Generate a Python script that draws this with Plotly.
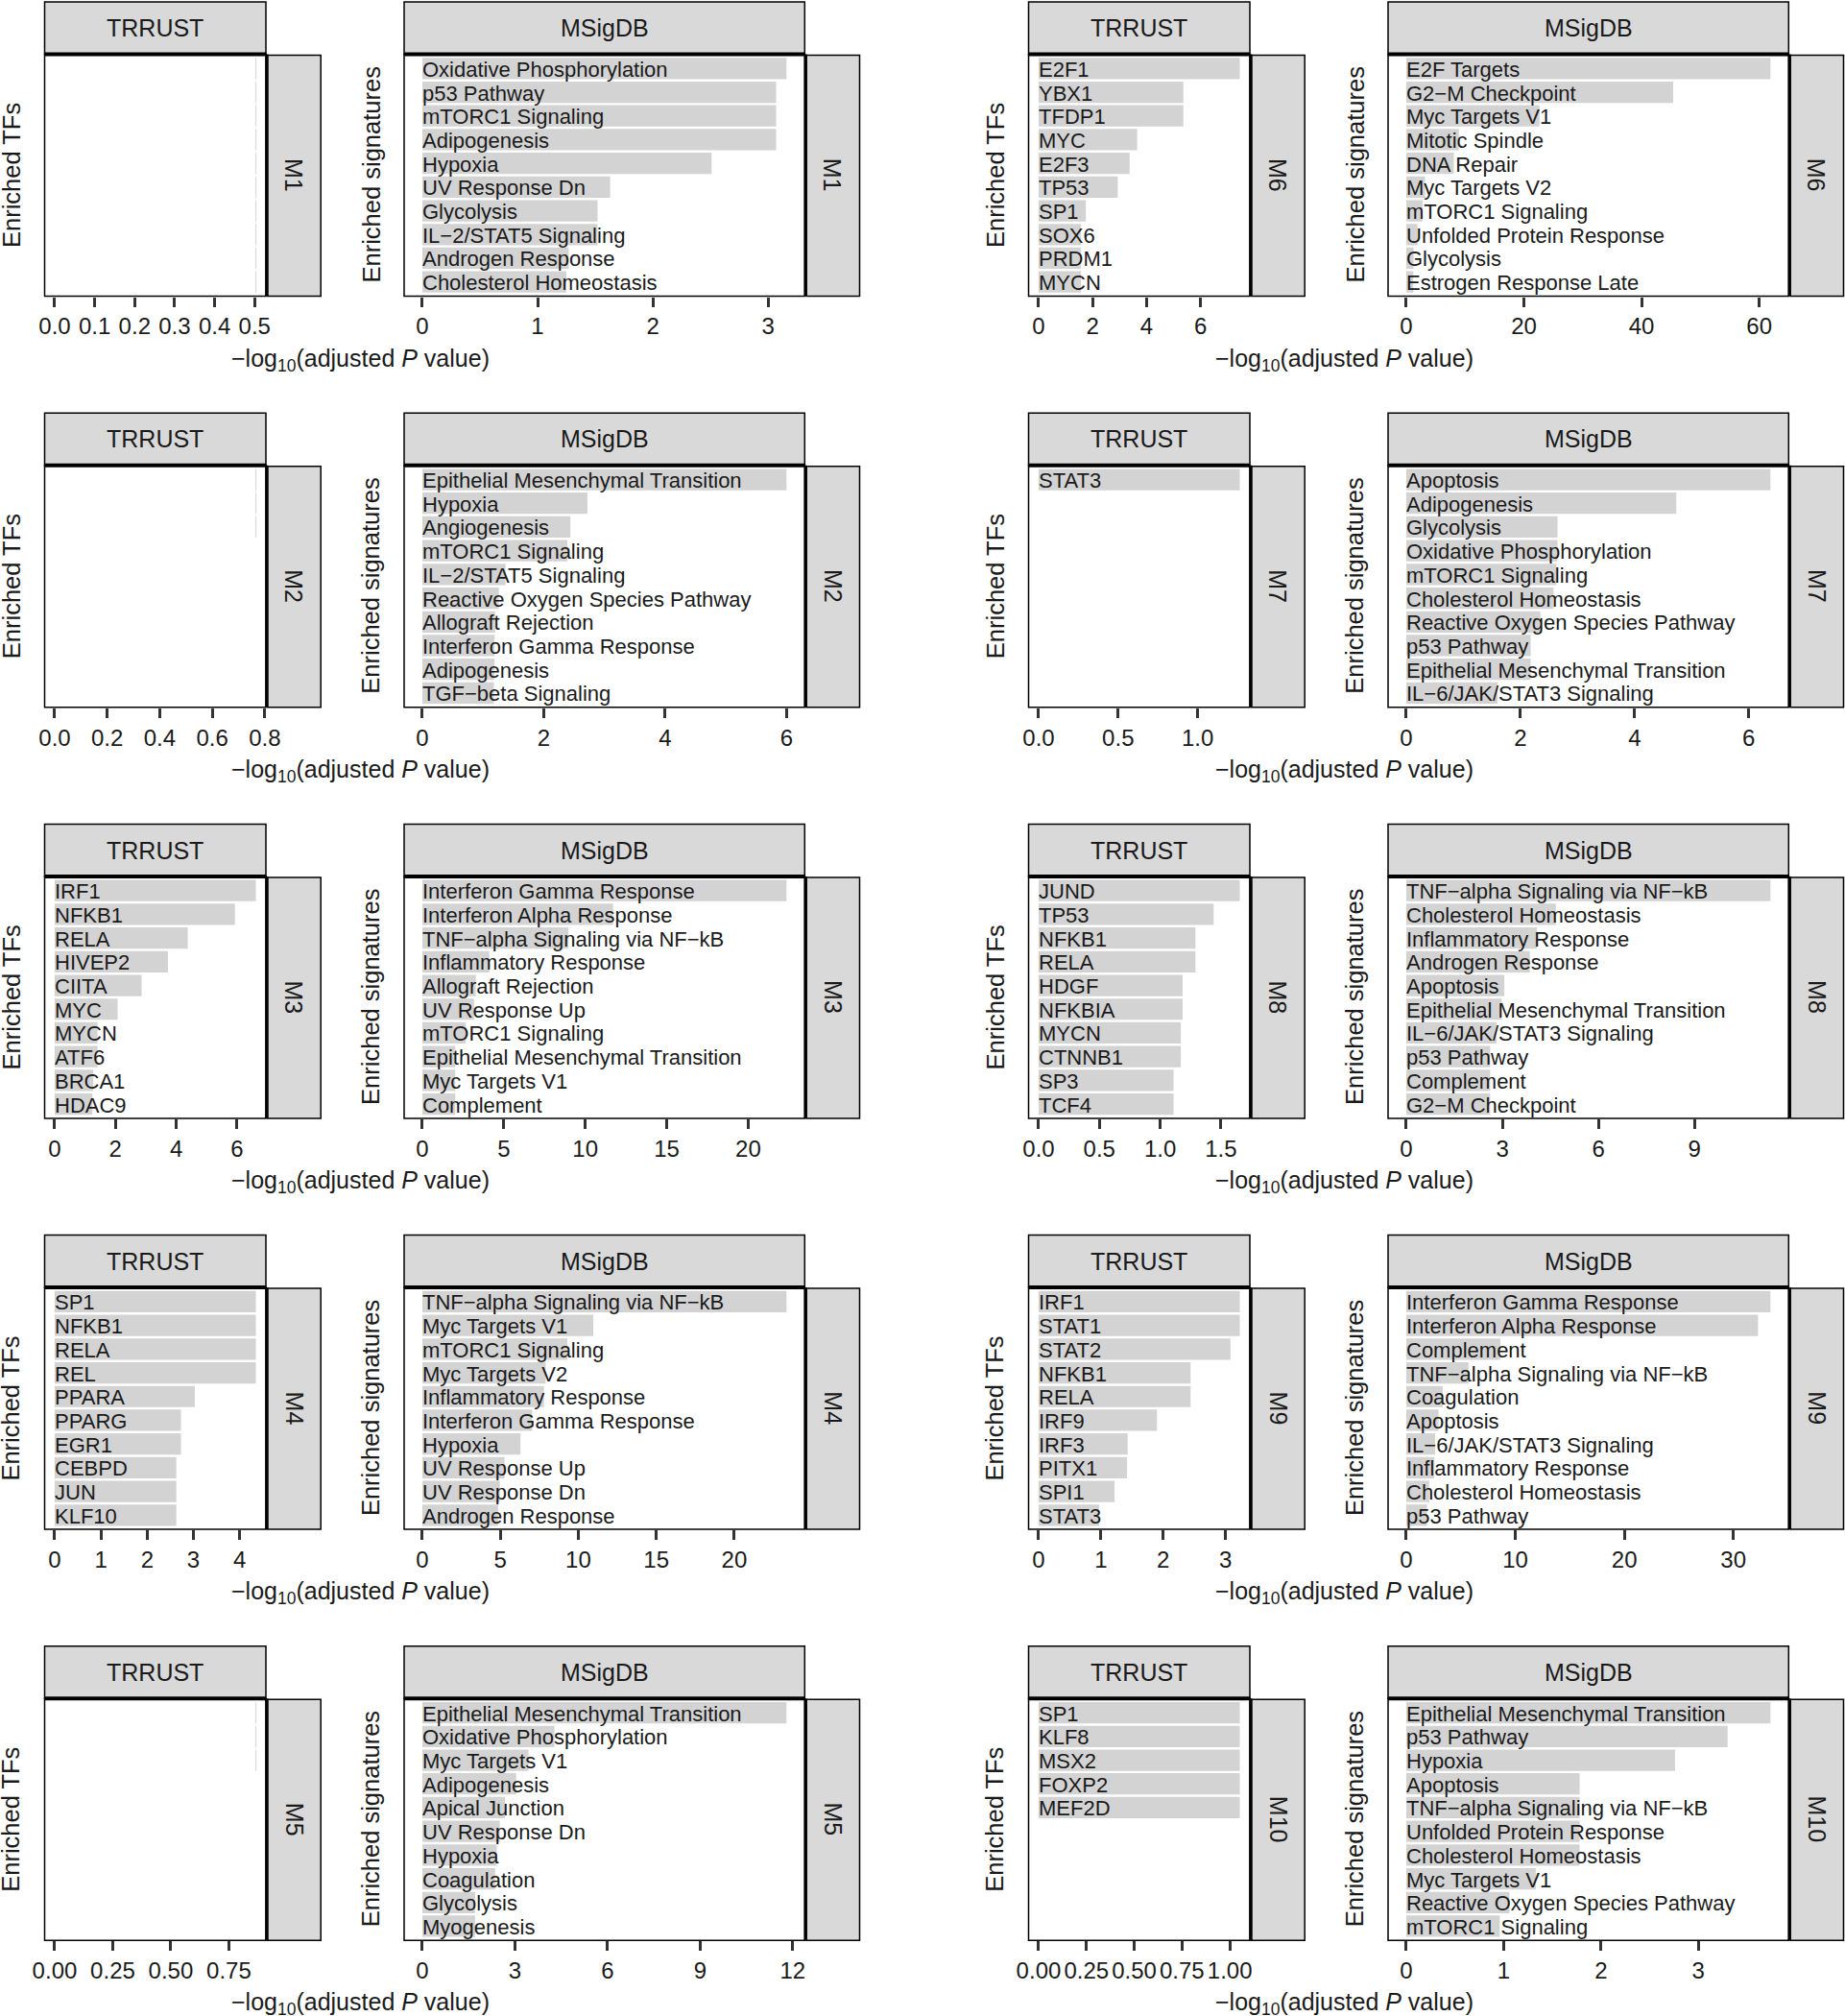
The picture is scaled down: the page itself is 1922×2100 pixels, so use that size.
import plotly.graph_objects as go

# ---------------------------------------------------------------- data
MODULES_LEFT = ["M1", "M2", "M3", "M4", "M5"]
MODULES_RIGHT = ["M6", "M7", "M8", "M9", "M10"]
STRIP_TRRUST = "TRRUST"
STRIP_MSIGDB = "MSigDB"
Y_TITLE_TRRUST = "Enriched TFs"
Y_TITLE_MSIGDB = "Enriched signatures"
X_TITLE = "\u2212log<sub>10</sub>(adjusted <i>P</i> value)"

# TRRUST (enriched TFs); empty panels keep their faint placeholder values
M1_TFS = []
M1_TF_VALS = []
M1_TF_EMPTY = [0.503, 0.503, 0.503, 0.503, 0.503, 0.503, 0.503, 0.503, 0.503, 0.503]
M2_TFS = []
M2_TF_VALS = []
M2_TF_EMPTY = [0.766, 0.766, 0.766]
M3_TFS = ["IRF1", "NFKB1", "RELA", "HIVEP2", "CIITA", "MYC", "MYCN", "ATF6", "BRCA1", "HDAC9"]
M3_TF_VALS = [6.62, 5.93, 4.38, 3.73, 2.86, 2.07, 1.41, 1.41, 1.27, 1.24]
M4_TFS = ["SP1", "NFKB1", "RELA", "REL", "PPARA", "PPARG", "EGR1", "CEBPD", "JUN", "KLF10"]
M4_TF_VALS = [4.35, 4.35, 4.35, 4.35, 3.03, 2.73, 2.73, 2.63, 2.63, 2.63]
M5_TFS = []
M5_TF_VALS = []
M5_TF_EMPTY = [0.866, 0.866, 0.866]
M6_TFS = ["E2F1", "YBX1", "TFDP1", "MYC", "E2F3", "TP53", "SP1", "SOX6", "PRDM1", "MYCN"]
M6_TF_VALS = [7.45, 5.36, 5.36, 3.65, 3.37, 2.93, 1.75, 1.57, 1.57, 1.57]
M7_TFS = ["STAT3"]
M7_TF_VALS = [1.265]
M8_TFS = ["JUND", "TP53", "NFKB1", "RELA", "HDGF", "NFKBIA", "MYCN", "CTNNB1", "SP3", "TCF4"]
M8_TF_VALS = [1.655, 1.44, 1.29, 1.29, 1.185, 1.185, 1.17, 1.17, 1.11, 1.11]
M9_TFS = ["IRF1", "STAT1", "STAT2", "NFKB1", "RELA", "IRF9", "IRF3", "PITX1", "SPI1", "STAT3"]
M9_TF_VALS = [3.23, 3.23, 3.08, 2.44, 2.44, 1.90, 1.43, 1.42, 1.22, 0.97]
M10_TFS = ["SP1", "KLF8", "MSX2", "FOXP2", "MEF2D"]
M10_TF_VALS = [1.052, 1.052, 1.052, 1.052, 1.052]

# MSigDB hallmark signatures
M1_SIGS = ["Oxidative Phosphorylation", "p53 Pathway", "mTORC1 Signaling", "Adipogenesis", "Hypoxia",
           "UV Response Dn", "Glycolysis", "IL\u22122/STAT5 Signaling", "Androgen Response",
           "Cholesterol Homeostasis"]
M1_SIG_VALS = [3.16, 3.07, 3.07, 3.07, 2.51, 1.63, 1.52, 1.52, 1.27, 1.25]
M2_SIGS = ["Epithelial Mesenchymal Transition", "Hypoxia", "Angiogenesis", "mTORC1 Signaling",
           "IL\u22122/STAT5 Signaling", "Reactive Oxygen Species Pathway", "Allograft Rejection",
           "Interferon Gamma Response", "Adipogenesis", "TGF\u2212beta Signaling"]
M2_SIG_VALS = [6.0, 2.72, 2.44, 2.39, 1.37, 1.26, 1.20, 1.19, 1.19, 1.18]
M3_SIGS = ["Interferon Gamma Response", "Interferon Alpha Response", "TNF\u2212alpha Signaling via NF\u2212kB",
           "Inflammatory Response", "Allograft Rejection", "UV Response Up", "mTORC1 Signaling",
           "Epithelial Mesenchymal Transition", "Myc Targets V1", "Complement"]
M3_SIG_VALS = [22.35, 11.71, 8.97, 4.11, 3.28, 3.17, 2.67, 2.02, 2.02, 2.02]
M4_SIGS = ["TNF\u2212alpha Signaling via NF\u2212kB", "Myc Targets V1", "mTORC1 Signaling", "Myc Targets V2",
           "Inflammatory Response", "Interferon Gamma Response", "Hypoxia", "UV Response Up",
           "UV Response Dn", "Androgen Response"]
M4_SIG_VALS = [23.35, 10.96, 9.30, 7.91, 7.80, 7.04, 6.29, 5.27, 4.97, 4.86]
M5_SIGS = ["Epithelial Mesenchymal Transition", "Oxidative Phosphorylation", "Myc Targets V1", "Adipogenesis",
           "Apical Junction", "UV Response Dn", "Hypoxia", "Coagulation", "Glycolysis", "Myogenesis"]
M5_SIG_VALS = [11.8, 4.28, 3.44, 3.04, 2.68, 2.51, 2.41, 2.36, 1.71, 1.71]
M6_SIGS = ["E2F Targets", "G2\u2212M Checkpoint", "Myc Targets V1", "Mitotic Spindle", "DNA Repair",
           "Myc Targets V2", "mTORC1 Signaling", "Unfolded Protein Response", "Glycolysis",
           "Estrogen Response Late"]
M6_SIG_VALS = [61.9, 45.37, 22.66, 8.94, 8.08, 3.20, 2.76, 1.90, 1.25, 1.19]
M7_SIGS = ["Apoptosis", "Adipogenesis", "Glycolysis", "Oxidative Phosphorylation", "mTORC1 Signaling",
           "Cholesterol Homeostasis", "Reactive Oxygen Species Pathway", "p53 Pathway",
           "Epithelial Mesenchymal Transition", "IL\u22126/JAK/STAT3 Signaling"]
M7_SIG_VALS = [6.38, 4.73, 2.65, 2.65, 2.63, 2.58, 2.35, 2.18, 2.18, 1.60]
M8_SIGS = ["TNF\u2212alpha Signaling via NF\u2212kB", "Cholesterol Homeostasis", "Inflammatory Response",
           "Androgen Response", "Apoptosis", "Epithelial Mesenchymal Transition",
           "IL\u22126/JAK/STAT3 Signaling", "p53 Pathway", "Complement", "G2\u2212M Checkpoint"]
M8_SIG_VALS = [11.37, 4.67, 4.08, 3.86, 3.06, 2.98, 2.82, 2.62, 2.62, 2.62]
M9_SIGS = ["Interferon Gamma Response", "Interferon Alpha Response", "Complement",
           "TNF\u2212alpha Signaling via NF\u2212kB", "Coagulation", "Apoptosis", "IL\u22126/JAK/STAT3 Signaling",
           "Inflammatory Response", "Cholesterol Homeostasis", "p53 Pathway"]
M9_SIG_VALS = [33.4, 32.26, 8.62, 5.71, 3.34, 2.96, 2.64, 2.58, 2.10, 1.90]
M10_SIGS = ["Epithelial Mesenchymal Transition", "p53 Pathway", "Hypoxia", "Apoptosis",
            "TNF\u2212alpha Signaling via NF\u2212kB", "Unfolded Protein Response", "Cholesterol Homeostasis",
            "Myc Targets V1", "Reactive Oxygen Species Pathway", "mTORC1 Signaling"]
M10_SIG_VALS = [3.74, 3.30, 2.76, 1.78, 1.78, 1.78, 1.78, 1.33, 1.06, 0.96]

# axis tick steps / label formats, M1..M10
TRRUST_DTICK = [0.1, 0.2, 2, 1, 0.25, 2, 0.5, 0.5, 1, 0.25]
TRRUST_TICKFMT = [".1f", ".1f", "d", "d", ".2f", "d", ".1f", ".1f", "d", ".2f"]
MSIGDB_DTICK = [1, 2, 5, 5, 3, 20, 2, 3, 10, 1]
MSIGDB_TICKFMT = ["d", "d", "d", "d", "d", "d", "d", "d", "d", "d"]

N_SLOTS = 10

# table built from the named lists
TF_TABLE = {
    "M1": (M1_TFS, M1_TF_VALS, M1_TF_EMPTY), "M2": (M2_TFS, M2_TF_VALS, M2_TF_EMPTY),
    "M3": (M3_TFS, M3_TF_VALS, []), "M4": (M4_TFS, M4_TF_VALS, []),
    "M5": (M5_TFS, M5_TF_VALS, M5_TF_EMPTY), "M6": (M6_TFS, M6_TF_VALS, []),
    "M7": (M7_TFS, M7_TF_VALS, []), "M8": (M8_TFS, M8_TF_VALS, []),
    "M9": (M9_TFS, M9_TF_VALS, []), "M10": (M10_TFS, M10_TF_VALS, []),
}
SIG_TABLE = {
    "M1": (M1_SIGS, M1_SIG_VALS, []), "M2": (M2_SIGS, M2_SIG_VALS, []),
    "M3": (M3_SIGS, M3_SIG_VALS, []), "M4": (M4_SIGS, M4_SIG_VALS, []),
    "M5": (M5_SIGS, M5_SIG_VALS, []), "M6": (M6_SIGS, M6_SIG_VALS, []),
    "M7": (M7_SIGS, M7_SIG_VALS, []), "M8": (M8_SIGS, M8_SIG_VALS, []),
    "M9": (M9_SIGS, M9_SIG_VALS, []), "M10": (M10_SIGS, M10_SIG_VALS, []),
}

# ---------------------------------------------------------------- style / geometry
W, H = 1922, 2100
FONT = "Liberation Sans, Arial, Helvetica, sans-serif"
TXT = "#1a1a1a"
BAR_COL = "#D3D3D3"
STRIP_FILL = "#D9D9D9"
GHOST_COL = "#dcdcdc"

GROUP_DX = [0.0, 1025.0]
ROW_PITCH = 428.2
STRIP_TOP, PANEL_TOP, PANEL_BOT = 2.0, 56.5, 308.5
PANEL_X = {"TRRUST": (46.5, 277.0), "MSigDB": (421.0, 838.3)}
RSTRIP_GAP, RSTRIP_W = 1.8, 55.4
YTITLE_X = {"TRRUST": 11.5, "MSigDB": 386.0}
XTITLE_X = 375.0
XTITLE_DY = 66.0


def fx(x):
    return x / W


def fy(y):
    return 1 - y / H


fig = go.Figure()
shapes, annots, axes = [], [], {}


def rect(x0, y0, x1, y1, fill=None, lw=1.5, layer="above"):
    shapes.append(dict(type="rect", xref="paper", yref="paper", x0=fx(x0), x1=fx(x1),
                       y0=fy(y1), y1=fy(y0), line=dict(color="black", width=lw),
                       fillcolor=fill if fill else "rgba(0,0,0,0)", layer=layer))


def line(x0, y0, x1, y1, lw):
    shapes.append(dict(type="line", xref="paper", yref="paper", x0=fx(x0), x1=fx(x1),
                       y0=fy(y0), y1=fy(y1), line=dict(color="black", width=lw), layer="above"))


def text(x, y, s, size, angle=0):
    annots.append(dict(xref="paper", yref="paper", x=fx(x), y=fy(y), text=s, showarrow=False,
                       xanchor="center", yanchor="middle", textangle=angle,
                       font=dict(family=FONT, size=size, color=TXT)))


n = 0
for g, mods in enumerate([MODULES_LEFT, MODULES_RIGHT]):
    dx = GROUP_DX[g]
    for r, mod in enumerate(mods):
        oy = r * ROW_PITCH
        stop, ptop, pbot = STRIP_TOP + oy, PANEL_TOP + oy, PANEL_BOT + oy
        mi = int(mod[1:]) - 1
        for kind in ["TRRUST", "MSigDB"]:
            n += 1
            sfx = "" if n == 1 else str(n)
            if kind == "TRRUST":
                labels, vals, empty = TF_TABLE[mod]
                dtick, fmt = TRRUST_DTICK[mi], TRRUST_TICKFMT[mi]
                strip_label, ytitle = STRIP_TRRUST, Y_TITLE_TRRUST
            else:
                labels, vals, empty = SIG_TABLE[mod]
                dtick, fmt = MSIGDB_DTICK[mi], MSIGDB_TICKFMT[mi]
                strip_label, ytitle = STRIP_MSIGDB, Y_TITLE_MSIGDB
            x0, x1 = PANEL_X[kind][0] + dx, PANEL_X[kind][1] + dx
            m = max(vals) if vals else max(empty)

            slots = [N_SLOTS - i for i in range(len(vals))]
            if vals:
                fig.add_trace(go.Bar(x=vals, y=slots, orientation="h", width=0.9,
                                     marker=dict(color=BAR_COL, line=dict(width=0)),
                                     xaxis="x" + sfx, yaxis="y" + sfx, hoverinfo="skip"))
            if empty:
                gx, gy = [], []
                for i, v in enumerate(empty):
                    s = N_SLOTS - i
                    gx += [v, v, None]
                    gy += [s - 0.45, s + 0.45, None]
                fig.add_trace(go.Scatter(x=gx, y=gy, mode="lines", line=dict(color=GHOST_COL, width=1.3),
                                         xaxis="x" + sfx, yaxis="y" + sfx, hoverinfo="skip"))
            for lab, s in zip(labels, slots):
                annots.append(dict(xref="x" + sfx, yref="y" + sfx, x=0, y=s, text=lab, showarrow=False,
                                   xanchor="left", yanchor="middle", borderpad=0, borderwidth=0, yshift=-1,
                                   font=dict(family=FONT, size=22, color=TXT)))

            axes["xaxis" + sfx] = dict(domain=[fx(x0), fx(x1)], anchor="y" + sfx, automargin=False,
                                       range=[-0.05 * m, 1.05 * m], tick0=0, dtick=dtick, tickformat=fmt,
                                       ticks="outside", ticklen=10, tickwidth=2.5, tickcolor="#333333",
                                       showgrid=False, zeroline=False, showline=False, tickangle=0,
                                       tickfont=dict(family=FONT, size=24, color=TXT), fixedrange=True)
            axes["yaxis" + sfx] = dict(domain=[fy(pbot), fy(ptop)], anchor="x" + sfx, automargin=False,
                                       range=[0.4, N_SLOTS + 0.6], showticklabels=False, ticks="",
                                       showgrid=False, zeroline=False, showline=False, fixedrange=True)

            # panel border + top strip + side strip
            rect(x0, ptop, x1, pbot, lw=1.5)
            rect(x0, stop, x1, ptop, fill=STRIP_FILL, lw=1.5, layer="below")
            line(x0, ptop, x1, ptop, 4)
            sx0 = x1 + RSTRIP_GAP
            rect(sx0, ptop + 1, sx0 + RSTRIP_W, pbot, fill=STRIP_FILL, lw=1.5, layer="below")
            line(x1 + 0.9, ptop, x1 + 0.9, pbot, 3)
            text((x0 + x1) / 2, (stop + ptop) / 2, strip_label, 25)
            text(sx0 + RSTRIP_W / 2, (ptop + pbot) / 2, mod, 25, angle=90)
            text(YTITLE_X[kind] + dx, (ptop + pbot) / 2, ytitle, 25.5, angle=-90)
        text(XTITLE_X + dx, pbot + XTITLE_DY, X_TITLE, 25)

fig.update_layout(width=W, height=H, autosize=False,
                  margin=dict(l=0, r=0, t=0, b=0, pad=0, autoexpand=False), showlegend=False,
                  plot_bgcolor="white", paper_bgcolor="white", shapes=shapes, annotations=annots,
                  font=dict(family=FONT, color=TXT), **axes)
fig.write_html("out.html", config={"displayModeBar": False},
               post_script="document.body.style.margin='0';document.body.style.overflow='hidden';"
                           "document.documentElement.style.overflow='hidden';")
